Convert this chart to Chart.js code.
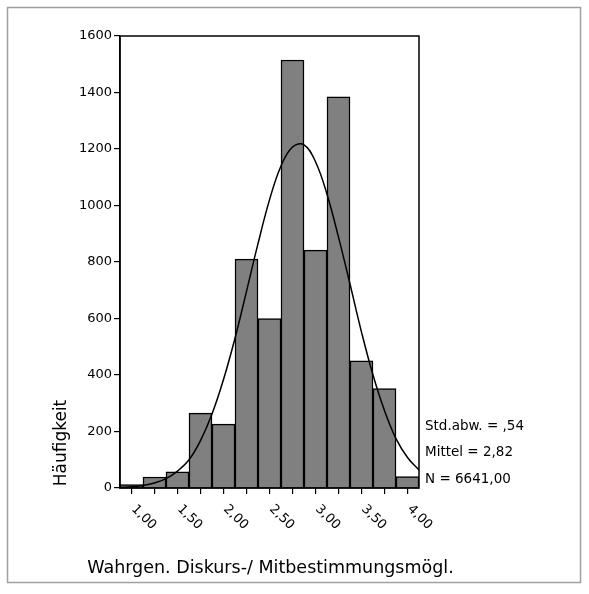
<!DOCTYPE html>
<html>
<head>
<meta charset="utf-8">
<script src="https://cdn.jsdelivr.net/npm/chart.js@4.4.0/dist/chart.umd.min.js"></script>
<style>
  html, body { margin: 0; padding: 0; background: #fff; }
  #wrap { width: 589px; height: 594px; }
</style>
</head>
<body>
<div id="wrap"><canvas id="histo" width="589" height="594"></canvas></div>
<script>
// Klassenmitten und Häufigkeiten
const klassen = [1.00, 1.25, 1.50, 1.75, 2.00, 2.25, 2.50, 2.75, 3.00, 3.25, 3.50, 3.75, 4.00];
const haeufigkeit = [12, 39, 57, 265, 226, 810, 600, 1515, 842, 1385, 450, 352, 40];

// Normalverteilungskurve, Punkte aus dem Bild geschätzt
const kurveX = [0.875, 1.0, 1.125, 1.25, 1.375, 1.5, 1.625, 1.75, 1.875, 2.0, 2.125, 2.25, 2.375,
  2.5, 2.625, 2.75, 2.875, 3.0, 3.125, 3.25, 3.375, 3.5, 3.625, 3.75, 3.875, 4.0, 4.125];
const kurveY = [2, 4, 9, 18, 33, 60, 100, 168, 262, 384, 530, 696, 865,
  1020, 1140, 1207, 1215, 1155, 1040, 888, 722, 552, 400, 274, 175, 108, 64];

const xTickWerte = klassen;
const xTickLabels = ["1,00", "", "1,50", "", "2,00", "", "2,50", "", "3,00", "", "3,50", "", "4,00"];
const yTicks = [0, 200, 400, 600, 800, 1000, 1200, 1400, 1600];

const statistik = ["Std.abw. = ,54", "Mittel = 2,82", "N = 6641,00"];
const xTitel = "Wahrgen. Diskurs-/ Mitbestimmungsmögl.";
const yTitel = "Häufigkeit";

const schrift = "'DejaVu Sans', Verdana, sans-serif";

const extras = {
  id: "extras",
  beforeDraw(chart) {
    const ctx = chart.ctx;
    ctx.save();
    ctx.fillStyle = "#fff";
    ctx.fillRect(0, 0, chart.width, chart.height);
    ctx.strokeStyle = "#a0a0a0";
    ctx.lineWidth = 1.5;
    ctx.strokeRect(7.5, 7.5, 573, 575);
    ctx.restore();
  },
  afterDraw(chart) {
    const ctx = chart.ctx;
    const a = chart.chartArea;
    const xs = chart.scales.x;
    ctx.save();
    // Rahmen um die Grafik
    ctx.strokeStyle = "#000";
    ctx.lineWidth = 1.5;
    ctx.strokeRect(a.left, a.top, a.right - a.left, a.bottom - a.top);

    // gedrehte x-Beschriftung
    ctx.fillStyle = "#000";
    ctx.font = "13px " + schrift;
    ctx.textAlign = "left";
    ctx.textBaseline = "middle";
    xTickWerte.forEach((v, i) => {
      if (!xTickLabels[i]) return;
      const px = xs.getPixelForValue(v);
      ctx.save();
      ctx.translate(px + 2, a.bottom + 19);
      ctx.rotate(Math.PI / 4);
      ctx.fillText(xTickLabels[i], 0, 0);
      ctx.restore();
    });

    // Achsentitel
    ctx.font = "17.5px " + schrift;
    ctx.textAlign = "center";
    ctx.textBaseline = "alphabetic";
    ctx.fillText(xTitel, (a.left + a.right) / 2 + 1, 573);

    ctx.save();
    ctx.translate(66, 443);
    ctx.rotate(-Math.PI / 2);
    ctx.font = "17px " + schrift;
    ctx.fillText(yTitel, 0, 0);
    ctx.restore();

    // Statistik rechts
    ctx.font = "13.5px " + schrift;
    ctx.textAlign = "left";
    ctx.textBaseline = "middle";
    statistik.forEach((t, i) => {
      ctx.fillText(t, a.right + 6, 426 + i * 26.5);
    });
    ctx.restore();
  }
};

new Chart(document.getElementById("histo"), {
  type: "bar",
  data: {
    datasets: [
      {
        type: "line",
        data: kurveX.map((x, i) => ({ x: x, y: kurveY[i] })),
        borderColor: "#000",
        borderWidth: 1.5,
        pointRadius: 0,
        tension: 0.4,
        fill: false,
        order: 0
      },
      {
        data: klassen.map((x, i) => ({ x: x, y: haeufigkeit[i] })),
        backgroundColor: "#808080",
        borderColor: "#000",
        borderWidth: 1.5,
        barPercentage: 1,
        categoryPercentage: 1,
        order: 1
      }
    ]
  },
  options: {
    responsive: false,
    animation: false,
    devicePixelRatio: 1,
    layout: { padding: { left: 0, top: 36, right: 170, bottom: 0 } },
    plugins: {
      legend: { display: false },
      tooltip: { enabled: false }
    },
    scales: {
      x: {
        type: "linear",
        offset: false,
        min: 0.875,
        max: 4.125,
        afterBuildTicks: (s) => { s.ticks = xTickWerte.map((v) => ({ value: v })); },
        afterFit: (s) => { s.height = 106; },
        ticks: { display: false },
        grid: { offset: false, drawOnChartArea: false, drawTicks: true, tickLength: 6, color: "#000", lineWidth: 1.2 },
        border: { display: true, color: "#000", width: 1.5 }
      },
      y: {
        min: 0,
        max: 1600,
        afterBuildTicks: (s) => { s.ticks = yTicks.map((v) => ({ value: v })); },
        afterFit: (s) => { s.width = 120; },
        ticks: { color: "#000", padding: 2, font: { family: schrift, size: 13 }, callback: (v) => String(v) },
        grid: { drawOnChartArea: false, drawTicks: true, tickLength: 6, color: "#000", lineWidth: 1.2 },
        border: { display: true, color: "#000", width: 1.5 }
      }
    }
  },
  plugins: [extras]
});
</script>
</body>
</html>
